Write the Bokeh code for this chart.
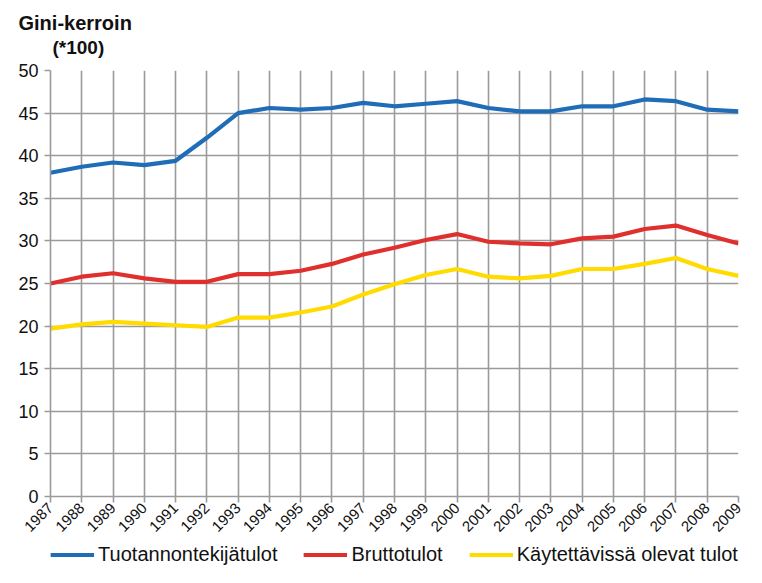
import math
from bokeh.plotting import figure
from bokeh.layouts import column
from bokeh.models import Range1d, FixedTicker, Legend, LegendItem, Title
from bokeh.embed import file_html
from bokeh.resources import INLINE

years = list(range(1987, 2010))
tuotannontekija = [38.0, 38.7, 39.2, 38.9, 39.4, 42.1, 45.0, 45.6, 45.4, 45.6, 46.2, 45.8,
                   46.1, 46.4, 45.6, 45.2, 45.2, 45.8, 45.8, 46.6, 46.4, 45.4, 45.2]
brutto = [25.0, 25.8, 26.2, 25.6, 25.2, 25.2, 26.1, 26.1, 26.5, 27.3, 28.4, 29.2,
          30.1, 30.8, 29.9, 29.7, 29.6, 30.3, 30.5, 31.4, 31.8, 30.7, 29.7]
kaytettavissa = [19.7, 20.2, 20.5, 20.3, 20.1, 19.9, 21.0, 21.0, 21.6, 22.3, 23.7, 24.9,
                 26.0, 26.7, 25.8, 25.6, 25.9, 26.7, 26.7, 27.3, 28.0, 26.7, 25.9]
series_names = ["Tuotannontekijätulot", "Bruttotulot", "Käytettävissä olevat tulot"]
series_colors = ["#1f6cb7", "#e0302e", "#ffdb00"]
y_ticks = list(range(0, 51, 5))

FONT = "Liberation Sans"
GRID = "#9a9a9a"
LEFT = 50

p = figure(width=746, height=541, output_backend="svg", toolbar_location=None,
           x_range=Range1d(1987, 2009), y_range=Range1d(0, 50),
           min_border_left=LEFT, min_border_right=8, min_border_top=70, min_border_bottom=45)
p.outline_line_color = None

for ax in (p.xaxis[0], p.yaxis[0]):
    ax.axis_line_color = GRID
    ax.axis_line_width = 1.6
    ax.major_tick_line_color = GRID
    ax.major_tick_line_width = 1.6
    ax.major_tick_out = 6
    ax.major_tick_in = 0
    ax.minor_tick_line_color = None
    ax.major_label_text_font = FONT
    ax.major_label_text_color = "#111111"

p.xaxis.ticker = FixedTicker(ticks=years)
p.xaxis.major_label_orientation = math.pi / 4
p.xaxis.major_label_text_font_size = "15px"
p.xaxis.major_label_standoff = 3
p.yaxis.ticker = FixedTicker(ticks=y_ticks)
p.yaxis.major_label_text_font_size = "18px"
p.yaxis.major_label_standoff = 6

p.xgrid.grid_line_color = GRID
p.xgrid.grid_line_width = 1.6
p.ygrid.grid_line_color = GRID
p.ygrid.grid_line_width = 1.6

for vals, color in zip([tuotannontekija, brutto, kaytettavissa], series_colors):
    p.line(years, vals, line_color=color, line_width=4.2, line_join="round")

p.add_layout(Title(text="(*100)", align="left", offset=52 - LEFT,
                   text_font=FONT, text_font_size="19px", text_font_style="bold",
                   text_color="#111111", standoff=26), "above")
p.add_layout(Title(text="Gini-kerroin", align="left", offset=18 - LEFT,
                   text_font=FONT, text_font_size="20px", text_font_style="bold",
                   text_color="#111111", standoff=-24), "above")

# legend strip below the chart (its sample lines lie outside the strip's visible range)
lg = figure(width=746, height=26, output_backend="svg", toolbar_location=None,
            x_range=Range1d(0, 1), y_range=Range1d(0, 1),
            min_border_left=0, min_border_right=0, min_border_top=0, min_border_bottom=0)
lg.axis.visible = False
lg.grid.visible = False
lg.outline_line_color = None
items = []
for name, color in zip(series_names, series_colors):
    r = lg.line(x=[-2, -1], y=[-2, -1], line_color=color, line_width=4.2)
    items.append(LegendItem(label=name, renderers=[r]))
legend = Legend(items=items, orientation="horizontal", location="center",
                label_text_font=FONT, label_text_font_size="20px", label_text_color="#111111",
                glyph_width=44, glyph_height=20, label_standoff=4, spacing=26,
                padding=0, margin=0, background_fill_alpha=0, border_line_color=None,
                label_height=22)
lg.add_layout(legend)

layout = column(p, lg, spacing=0)
open("out.html", "w").write(file_html(layout, INLINE))
